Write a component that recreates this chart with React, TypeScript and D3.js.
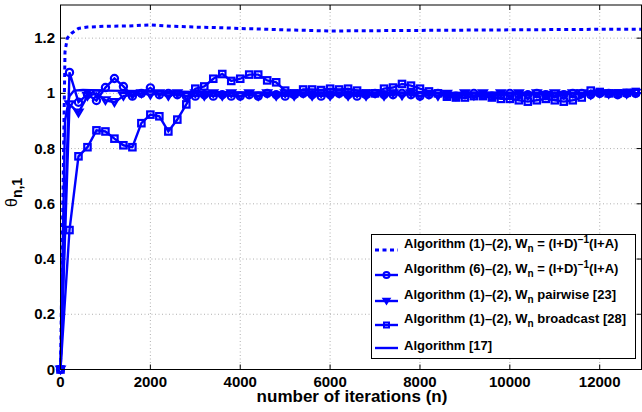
import React from "react";
import * as d3 from "d3";

const xTicks = [0, 2000, 4000, 6000, 8000, 10000, 12000];
const yTicks = [0, 0.2, 0.4, 0.6, 0.8, 1, 1.2];
const yTickLabels = ["0", "0.2", "0.4", "0.6", "0.8", "1", "1.2"];

// marker series sampled every 200 iterations
const markerN = [
  0, 200, 400, 600, 800, 1000, 1200, 1400, 1600, 1800, 2000, 2200, 2400, 2600, 2800, 3000,
  3200, 3400, 3600, 3800, 4000, 4200, 4400, 4600, 4800, 5000, 5200, 5400, 5600, 5800, 6000,
  6200, 6400, 6600, 6800, 7000, 7200, 7400, 7600, 7800, 8000, 8200, 8400, 8600, 8800, 9000,
  9200, 9400, 9600, 9800, 10000, 10200, 10400, 10600, 10800, 11000, 11200, 11400, 11600,
  11800, 12000, 12200, 12400, 12600, 12800,
];

// Algorithm (6)-(2), circles
const circleVals = [
  0, 1.076, 0.968, 0.996, 0.974, 1.021, 1.054, 1.025, 0.99, 1.0, 1.02, 0.995, 1.0, 0.995, 0.99, 0.99,
  0.995, 0.99, 0.995, 0.99, 0.99, 0.995, 0.99, 1.0, 0.995, 0.99, 0.995, 1.0, 0.995, 0.99, 0.995,
  1.0, 0.995, 0.99, 0.995, 1.0, 0.995, 0.995, 1.0, 0.995, 0.99, 0.995, 1.0, 0.995, 0.99, 0.995,
  1.0, 0.995, 0.99, 0.995, 1.0, 0.995, 0.995, 1.0, 0.995, 0.99, 0.995, 1.0, 1.0, 0.995,
  1.0, 1.0, 0.995, 1.0, 1.0,
];

// Algorithm (1)-(2), W_n pairwise, triangles
const triVals = [
  0, 0.96, 0.93, 0.99, 1.0, 0.975, 0.968, 0.99, 0.995, 1.0, 0.995, 1.0, 0.99, 1.0, 0.99, 1.0,
  0.99, 1.0, 0.99, 1.0, 0.99, 1.0, 0.99, 1.0, 0.99, 1.0, 0.99, 1.0, 0.99, 1.0, 0.99,
  1.0, 0.99, 1.0, 0.99, 1.0, 0.99, 1.0, 0.992, 1.0, 0.99, 0.998, 0.99, 0.998, 0.99, 1.0,
  0.992, 1.0, 0.992, 1.0, 0.992, 1.0, 0.992, 1.0, 0.995, 1.0, 0.995, 1.0, 1.0, 0.995,
  1.0, 0.998, 1.0, 0.998, 1.002,
];

// Algorithm (1)-(2), W_n broadcast, squares
const sqVals = [
  0, 0.505, 0.772, 0.805, 0.866, 0.862, 0.836, 0.812, 0.805, 0.892, 0.923, 0.917, 0.862, 0.905, 0.96, 1.017,
  1.025, 1.053, 1.07, 1.045, 1.053, 1.068, 1.068, 1.047, 1.04, 1.01, 1.0, 1.014, 1.014, 1.012, 1.017,
  1.014, 1.017, 1.01, 1.0, 1.0, 1.017, 1.021, 1.034, 1.028, 1.017, 1.007, 1.0, 0.988, 0.985, 0.985,
  0.99, 0.99, 0.985, 0.98, 0.98, 0.975, 0.97, 0.975, 0.98, 0.975, 0.97, 0.975, 0.985,
  1.01, 1.005, 1.0, 1.0, 1.002, 1.005,
];

// Algorithm (1)-(2), W_n = (I+D)^-1(I+A), dotted
const dotN = [0, 100, 150, 250, 400, 600, 1000, 1500, 2000, 2500, 3000, 3500, 4000, 5000, 6000, 7000, 8000, 9000, 10000, 11000, 12000, 13000];
const dotVals = [0, 1.15, 1.2, 1.218, 1.235, 1.24, 1.243, 1.244, 1.248, 1.243, 1.24, 1.238, 1.235, 1.23, 1.226, 1.227, 1.228, 1.229, 1.23, 1.231, 1.232, 1.232];

// Algorithm [17], solid
const solidN = [0, 100, 200, 300, 500, 1000, 2000, 3000, 5000, 8000, 13000];
const solidVals = [0, 0.9, 0.99, 1.01, 1.012, 1.01, 1.008, 1.005, 1.003, 1.002, 1.001];

const legendLabels = [
  "Algorithm (1)–(2), W",
  "Algorithm (6)–(2), W",
  "Algorithm (1)–(2), W",
  "Algorithm (1)–(2), W",
  "Algorithm [17]",
];

const BLUE = "#0000ff";
const FONT = "'Liberation Sans', Arial, Helvetica, sans-serif";

export default function App() {
  const W = 642, H = 412;
  const left = 60.5, right = 641.5, top = 5, bottom = 369.5;
  const x = d3.scaleLinear().domain([0, 12930]).range([left, right]);
  const y = d3.scaleLinear().domain([0, 1.32]).range([bottom, top]);
  const line = d3.line<[number, number]>().x((d) => x(d[0])).y((d) => y(d[1]));

  const zip = (ns: number[], vs: number[]) => ns.map((n, i) => [n, vs[i]] as [number, number]);
  const circ = zip(markerN, circleVals);
  const tri = zip(markerN, triVals);
  const sq = zip(markerN, sqVals);
  const dot = zip(dotN, dotVals);
  const sol = zip(solidN, solidVals);

  const triPath = (cx: number, cy: number, s = 4) =>
    `M${cx - s},${cy - s * 0.75}L${cx + s},${cy - s * 0.75}L${cx},${cy + s * 0.9}Z`;

  const lgX0 = 375, lgX1 = 398, lgXm = 386.5, lgTx = 404;
  const lgY = [250, 275, 301, 325, 348];

  return (
    <svg width={W} height={H} style={{ position: "absolute", left: 0, top: 0 }} fontFamily={FONT}>
      <rect x={0} y={0} width={W} height={H} fill="#fff" />
      {/* grid */}
      {xTicks.slice(1).map((t) => (
        <line key={"gx" + t} x1={x(t)} x2={x(t)} y1={top} y2={bottom} stroke="#b0b0b0" strokeWidth={1} strokeDasharray="1,2.5" />
      ))}
      {yTicks.slice(1).map((t) => (
        <line key={"gy" + t} x1={left} x2={right} y1={y(t)} y2={y(t)} stroke="#b0b0b0" strokeWidth={1} strokeDasharray="1,2.5" />
      ))}
      {/* ticks */}
      {xTicks.map((t) => (
        <g key={"tx" + t}>
          <line x1={x(t)} x2={x(t)} y1={bottom} y2={bottom - 5} stroke="#000" />
          <line x1={x(t)} x2={x(t)} y1={top} y2={top + 5} stroke="#000" />
          <text x={x(t)} y={387} textAnchor="middle" fontSize={15} fontWeight="bold">{t}</text>
        </g>
      ))}
      {yTicks.map((t, i) => (
        <g key={"ty" + t}>
          <line x1={left} x2={left + 5} y1={y(t)} y2={y(t)} stroke="#000" />
          <line x1={right} x2={right - 5} y1={y(t)} y2={y(t)} stroke="#000" />
          <text x={55} y={y(t) + 5} textAnchor="end" fontSize={15} fontWeight="bold">{yTickLabels[i]}</text>
        </g>
      ))}
      {/* series */}
      <path d={line(dot) || ""} fill="none" stroke={BLUE} strokeWidth={3} strokeDasharray="4,3.5" />
      <path d={line(circ) || ""} fill="none" stroke={BLUE} strokeWidth={2.4} />
      {circ.map((d, i) => (
        <circle key={"c" + i} cx={x(d[0])} cy={y(d[1])} r={3.6} fill="none" stroke={BLUE} strokeWidth={2.2} />
      ))}
      <path d={line(tri) || ""} fill="none" stroke={BLUE} strokeWidth={2.4} />
      {tri.map((d, i) => (
        <path key={"t" + i} d={triPath(x(d[0]), y(d[1]))} fill="none" stroke={BLUE} strokeWidth={2.2} />
      ))}
      <path d={line(sq) || ""} fill="none" stroke={BLUE} strokeWidth={2.4} />
      {sq.map((d, i) => (
        <rect key={"s" + i} x={x(d[0]) - 3.2} y={y(d[1]) - 3.2} width={6.4} height={6.4} fill="none" stroke={BLUE} strokeWidth={2.2} />
      ))}
      <path d={line(sol) || ""} fill="none" stroke={BLUE} strokeWidth={2.4} />
      {/* frame */}
      <rect x={left} y={top} width={right - left} height={bottom - top} fill="none" stroke="#000" strokeWidth={1} />
      {/* axis labels */}
      <text x={352} y={402} textAnchor="middle" fontSize={17} fontWeight="bold">number of iterations (n)</text>
      <text transform="translate(17,207) rotate(-90)" fontSize={16}>
        θ<tspan dy={5} fontSize={14} fontWeight="bold">n,1</tspan>
      </text>
      {/* legend */}
      <rect x={371.5} y={234.5} width={264} height={124} fill="#fff" stroke="#000" strokeWidth={1} />
      <line x1={lgX0} x2={lgX1} y1={lgY[0]} y2={lgY[0]} stroke={BLUE} strokeWidth={3} strokeDasharray="4,3.5" />
      <line x1={lgX0} x2={lgX1} y1={lgY[1]} y2={lgY[1]} stroke={BLUE} strokeWidth={2.4} />
      <circle cx={lgXm} cy={lgY[1]} r={3} fill="none" stroke={BLUE} strokeWidth={2} />
      <line x1={lgX0} x2={lgX1} y1={lgY[2]} y2={lgY[2]} stroke={BLUE} strokeWidth={2.4} />
      <path d={triPath(lgXm, lgY[2], 3.5)} fill={BLUE} stroke={BLUE} strokeWidth={1.5} />
      <line x1={lgX0} x2={lgX1} y1={lgY[3]} y2={lgY[3]} stroke={BLUE} strokeWidth={2.4} />
      <rect x={lgXm - 2.5} y={lgY[3] - 2.5} width={5} height={5} fill="none" stroke={BLUE} strokeWidth={2} />
      <line x1={lgX0} x2={lgX1} y1={lgY[4]} y2={lgY[4]} stroke={BLUE} strokeWidth={2.4} />
      <g fontSize={13} fontWeight="bold">
        <text x={lgTx} y={lgY[0] - 2}>
          {legendLabels[0]}<tspan dy={4} fontSize={10}>n</tspan><tspan dy={-4}> = (I+D)</tspan><tspan dy={-5} fontSize={10}>−1</tspan><tspan dy={5}>(I+A)</tspan>
        </text>
        <text x={lgTx} y={lgY[1] - 2}>
          {legendLabels[1]}<tspan dy={4} fontSize={10}>n</tspan><tspan dy={-4}> = (I+D)</tspan><tspan dy={-5} fontSize={10}>−1</tspan><tspan dy={5}>(I+A)</tspan>
        </text>
        <text x={lgTx} y={lgY[2] - 2}>
          {legendLabels[2]}<tspan dy={4} fontSize={10}>n</tspan><tspan dy={-4}> pairwise [23]</tspan>
        </text>
        <text x={lgTx} y={lgY[3] - 2}>
          {legendLabels[3]}<tspan dy={4} fontSize={10}>n</tspan><tspan dy={-4}> broadcast [28]</tspan>
        </text>
        <text x={lgTx} y={lgY[4] + 2}>{legendLabels[4]}</text>
      </g>
    </svg>
  );
}
